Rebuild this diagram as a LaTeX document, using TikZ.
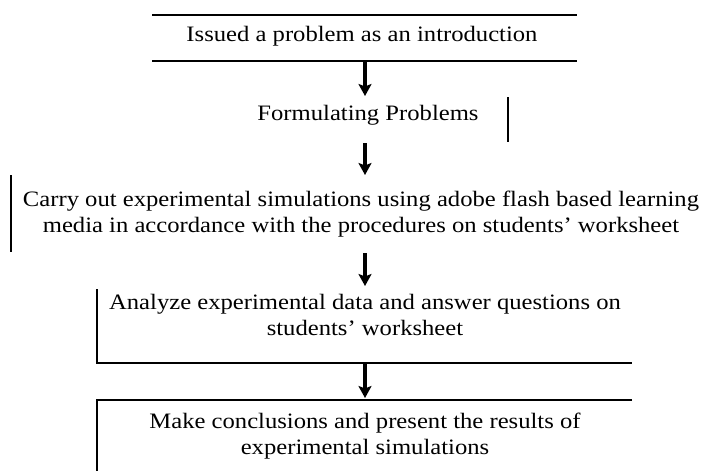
\documentclass[tikz,border=0pt]{standalone}
\usepackage{fontspec}
\setmainfont{Liberation Serif}[FakeStretch=1.12]
\usetikzlibrary{arrows.meta}
\tikzset{
  txt/.style={inner sep=0pt,align=center,font=\fontsize{22}{26}\selectfont},
  rule/.style={line width=1.8pt},
  flow/.style={line width=3.2pt,-{Stealth[length=12pt,width=13pt,inset=2.5pt]}},
}
\begin{document}
\begin{tikzpicture}[x=1pt,y=-1pt]
    \useasboundingbox (0,0) rectangle (707,471);
    % frames
    \draw[rule](152,15)--(577,15);
    \draw[rule](152,61)--(577,61);
    \draw[rule](508,97)--(508,142);
    \draw[rule](11,175)--(11,252);
    \draw[rule](97,289)--(97,363)--(632,363);
    \draw[rule](632,400)--(97,400)--(97,471);
    % texts
    \node[txt](intro) at (362,36){Issued a problem as an introduction};
    \node[txt](formul) at (368,115){Formulating Problems};
    \node[txt](simul) at (361,214){Carry out experimental simulations using adobe flash based learning\\media in accordance with the procedures on students' worksheet};
    \node[txt](analyze) at (365,315){Analyze experimental data and answer questions on\\students' worksheet};
    \node[txt](concl) at (365,436){Make conclusions and present the results of\\experimental simulations};
    % arrows
    \coordinate (a1) at (365,62);  \coordinate (b1) at (365,96);
    \coordinate (a2) at (365,143); \coordinate (b2) at (365,175);
    \coordinate (a3) at (365,253); \coordinate (b3) at (365,286);
    \coordinate (a4) at (365,364); \coordinate (b4) at (365,398);
    \draw[flow](a1)--(b1);
    \draw[flow](a2)--(b2);
    \draw[flow](a3)--(b3);
    \draw[flow](a4)--(b4);
\end{tikzpicture}
\end{document}
